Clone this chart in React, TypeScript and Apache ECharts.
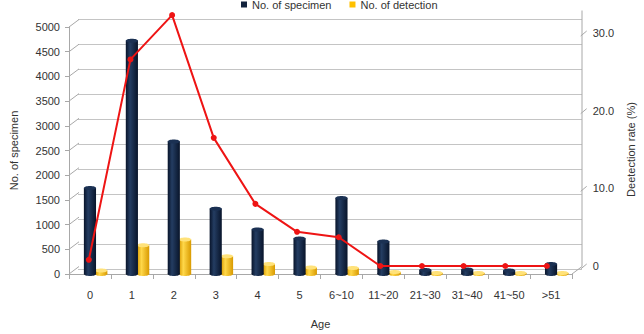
import React, { useEffect, useRef } from "react";
import * as echarts from "echarts";

// Age groups along the horizontal axis
const ages = ["0", "1", "2", "3", "4", "5", "6~10", "11~20", "21~30", "31~40", "41~50", ">51"];
// Number of specimens per age group (left axis)
const specimens = [1740, 4720, 2680, 1320, 900, 720, 1540, 660, 80, 90, 70, 200];
// Number of detections per age group (left axis)
const detections = [70, 580, 700, 360, 200, 130, 120, 40, 20, 20, 20, 20];
// Detection rate in percent (right axis)
const rates = [0.8, 26.6, 32.3, 16.5, 8.0, 4.4, 3.7, 0, 0, 0, 0, 0];

// Tick values of both value axes
const countTicks = [0, 500, 1000, 1500, 2000, 2500, 3000, 3500, 4000, 4500, 5000];
const rateTicks = [0, 10, 20, 30];

const FONT = "'Liberation Sans', Arial, sans-serif";
const FRAME = "#a8a8a8";
const GRID = "#c4c4c4";
const TEXT = "#333333";
// depth offset of the back wall relative to the front plane
const DX = 10;
const DY = -7.5;

type Palette = { dark: string; light: string; top: string };
const NAVY: Palette = { dark: "#08142a", light: "#243d62", top: "#1b3153" };
const GOLD: Palette = { dark: "#d99a00", light: "#ffd84a", top: "#ffe27a" };

function cylinder(pal: Palette, shift: number) {
  return (_params: any, api: any) => {
    const idx = api.value(0);
    const v = api.value(1);
    const top = api.coord([idx, v]);
    const base = api.coord([idx, 0]);
    const band = api.size([1, 0])[0];
    const w = band * 0.29;
    const cx = top[0] + shift * band;
    const ry = 2;
    const body = new echarts.graphic.LinearGradient(0, 0, 1, 0, [
      { offset: 0, color: pal.dark },
      { offset: 0.35, color: pal.light },
      { offset: 1, color: pal.dark },
    ]);
    return {
      type: "group",
      children: [
        {
          type: "rect",
          shape: { x: cx - w / 2, y: top[1], width: w, height: Math.max(base[1] - top[1], 0) },
          style: { fill: body },
        },
        { type: "ellipse", shape: { cx, cy: base[1], rx: w / 2, ry }, style: { fill: body } },
        { type: "ellipse", shape: { cx, cy: top[1], rx: w / 2, ry }, style: { fill: pal.top } },
      ],
    };
  };
}

export default function App() {
  const ref = useRef<HTMLDivElement>(null);

  useEffect(() => {
    if (!ref.current) return;
    const chart = echarts.init(ref.current, undefined, { renderer: "svg" });
    const n = ages.length;

    const option: any = {
      animation: false,
      backgroundColor: "#ffffff",
      textStyle: { fontFamily: FONT },
      legend: {
        data: ["No. of specimen", "No. of detection"],
        left: 236,
        top: -6,
        icon: "rect",
        itemWidth: 6,
        itemHeight: 6,
        itemGap: 18,
        textStyle: { fontSize: 11, color: TEXT, fontFamily: FONT },
      },
      grid: [
        // front plane: bars and left axis
        { left: 68, top: 27, width: 504, height: 250 },
        // back wall: horizontal grid lines
        { left: 68 + DX, top: 27 + DY, width: 504, height: 250 },
        // rate line
        { left: 68, top: 33, width: 504, height: 233 },
      ],
      xAxis: [
        {
          type: "category",
          gridIndex: 0,
          data: ages,
          boundaryGap: true,
          axisLine: { lineStyle: { color: FRAME } },
          axisTick: { show: true, length: 5, interval: 0, lineStyle: { color: FRAME } },
          axisLabel: { fontSize: 11, color: TEXT, margin: 15, interval: 0, fontFamily: FONT },
          name: "Age",
          nameLocation: "middle",
          nameGap: 44,
          nameTextStyle: { fontSize: 11, color: TEXT, fontFamily: FONT },
        },
        { type: "category", gridIndex: 1, data: ages, show: false },
        { type: "category", gridIndex: 2, data: ages, show: false },
      ],
      yAxis: [
        {
          type: "value",
          gridIndex: 0,
          min: 0,
          max: 5000,
          interval: 500,
          axisLine: { show: true, lineStyle: { color: FRAME } },
          axisTick: { show: true, length: 4, lineStyle: { color: FRAME } },
          axisLabel: {
            fontSize: 11,
            color: TEXT,
            margin: 9,
            fontFamily: FONT,
            formatter: (v: number) => String(v),
          },
          splitLine: { show: false },
          name: "No. of specimen",
          nameLocation: "middle",
          nameRotate: 90,
          nameGap: 50,
          nameTextStyle: { fontSize: 11, color: TEXT, fontFamily: FONT },
        },
        {
          type: "value",
          gridIndex: 1,
          min: 0,
          max: 5000,
          interval: 500,
          axisLine: { show: false },
          axisTick: { show: false },
          axisLabel: { show: false },
          splitLine: { show: true, lineStyle: { color: GRID, width: 1 } },
        },
        {
          type: "value",
          gridIndex: 2,
          position: "right",
          offset: 11,
          min: 0,
          max: 30,
          interval: 10,
          axisLine: { show: false },
          axisTick: { show: false },
          axisLabel: {
            fontSize: 11,
            color: TEXT,
            margin: 14,
            fontFamily: FONT,
            formatter: (v: number) => (v === 0 ? "0" : v.toFixed(1)),
          },
          splitLine: { show: false },
          name: "Deetection rate (%)",
          nameLocation: "middle",
          nameRotate: 90,
          nameGap: 45,
          nameTextStyle: { fontSize: 11, color: TEXT, fontFamily: FONT },
        },
      ],
      series: [
        {
          // slanted edges joining the front axis to the back wall, plus the box outline
          type: "custom",
          xAxisIndex: 0,
          yAxisIndex: 0,
          silent: true,
          z: 1,
          data: countTicks.map((v) => [0, v]),
          renderItem: (_p: any, api: any) => {
            const v = api.value(1);
            const pt = api.coord([0, v]);
            const band = api.size([1, 0])[0];
            const x0 = pt[0] - band / 2;
            const x1 = x0 + band * n;
            const style = { stroke: FRAME, lineWidth: 1, fill: "none" };
            const children: any[] = [
              { type: "line", shape: { x1: x0, y1: pt[1], x2: x0 + DX, y2: pt[1] + DY }, style },
            ];
            if (v === 0) {
              children.push({
                type: "line",
                shape: { x1: x1, y1: pt[1], x2: x1 + DX, y2: pt[1] + DY },
                style,
              });
              const topY = api.coord([0, 5000])[1];
              children.push({
                type: "line",
                shape: { x1: x1 + DX, y1: pt[1] + DY, x2: x1 + DX, y2: topY + DY - 9 },
                style,
              });
            }
            return { type: "group", children };
          },
        },
        {
          // slanted ticks of the rate axis
          type: "custom",
          xAxisIndex: 2,
          yAxisIndex: 2,
          silent: true,
          z: 1,
          data: rateTicks.map((v) => [0, v]),
          renderItem: (_p: any, api: any) => {
            const pt = api.coord([0, api.value(1)]);
            const band = api.size([1, 0])[0];
            const xr = pt[0] - band / 2 + band * n + DX + 1;
            return {
              type: "line",
              shape: { x1: xr + 2, y1: pt[1] + 3, x2: xr + 8, y2: pt[1] - 2 },
              style: { stroke: FRAME, lineWidth: 1 },
            };
          },
        },
        {
          name: "No. of detection",
          type: "custom",
          xAxisIndex: 0,
          yAxisIndex: 0,
          z: 2,
          itemStyle: { color: "#ffc000" },
          data: detections.map((v, i) => [i, v]),
          renderItem: cylinder(GOLD, 0.27),
        },
        {
          name: "No. of specimen",
          type: "custom",
          xAxisIndex: 0,
          yAxisIndex: 0,
          z: 3,
          itemStyle: { color: "#13233d" },
          data: specimens.map((v, i) => [i, v]),
          renderItem: cylinder(NAVY, 0),
        },
        {
          name: "Detection rate",
          type: "line",
          xAxisIndex: 2,
          yAxisIndex: 2,
          z: 5,
          clip: false,
          data: rates,
          symbol: "circle",
          symbolSize: 6,
          lineStyle: { color: "#ee1414", width: 2 },
          itemStyle: { color: "#ee1414" },
        },
      ],
    };

    chart.setOption(option);
    return () => chart.dispose();
  }, []);

  return (
    <div
      ref={ref}
      style={{ position: "fixed", left: 0, top: 0, width: 644, height: 334, background: "#fff" }}
    />
  );
}
